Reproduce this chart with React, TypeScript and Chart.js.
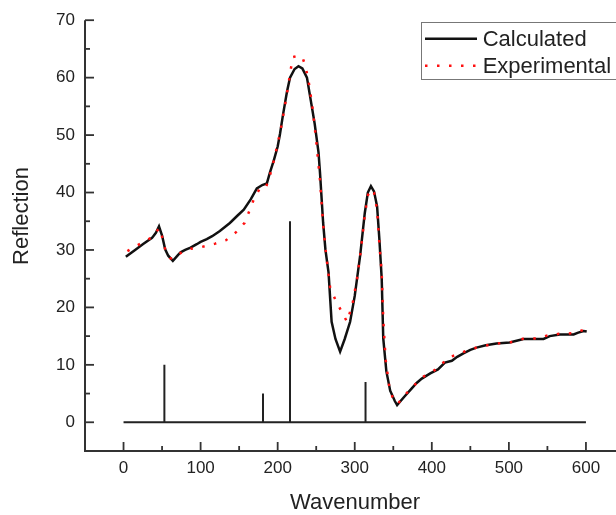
import React, { useEffect, useRef } from "react";
import { Chart, registerables } from "chart.js";

Chart.register(...registerables);

const calcX = [3, 15, 25, 37, 42, 46, 50, 54, 58, 64, 70, 74, 80, 87, 95, 100, 108, 115, 125, 138, 148, 156, 165, 173, 180, 186, 190, 195, 200, 203, 207, 212, 216, 222, 227, 232, 238, 243, 248, 253, 255, 259, 262, 266, 270, 275, 281, 287, 294, 300, 307, 313, 317, 321, 325, 329, 332, 335, 337, 341, 346, 352, 355, 364, 374, 380, 387, 398, 408, 417, 426, 433, 441, 450, 458, 470, 484, 501, 510, 519, 530, 545, 553, 566, 584, 590, 597, 601];
const calcY = [28.8, 30.0, 31.0, 32.1, 33.0, 34.1, 32.5, 30.1, 29.0, 28.1, 29.0, 29.6, 30.0, 30.4, 31.0, 31.4, 31.9, 32.4, 33.3, 34.7, 36.0, 37.0, 38.8, 40.7, 41.3, 41.6, 43.5, 45.6, 48.0, 50.2, 53.6, 57.5, 60.0, 61.5, 62.0, 61.6, 60.0, 56.0, 52.0, 47.0, 43.3, 34.7, 30.0, 26.1, 17.5, 14.5, 12.3, 14.5, 17.5, 22.0, 29.0, 36.4, 40.0, 41.1, 40.2, 37.6, 31.8, 25.0, 14.6, 8.9, 5.5, 3.7, 3.0, 4.4, 5.9, 6.8, 7.6, 8.5, 9.2, 10.4, 10.7, 11.4, 12.0, 12.6, 13.0, 13.4, 13.7, 13.9, 14.2, 14.5, 14.5, 14.5, 15.0, 15.3, 15.3, 15.6, 15.9, 15.8];

const expX = [5, 15, 25, 37, 43, 47, 51, 55, 60, 64, 70, 78, 87, 101, 119, 133, 146, 157, 163, 169, 176, 184, 190, 195, 200, 204, 208, 213, 217, 220, 226, 232, 236, 240, 245, 250, 255, 259, 263, 268, 275, 282, 290, 297, 303, 308, 313, 317, 321, 325, 329, 332, 335, 337, 340, 345, 350, 356, 364, 374, 387, 398, 410, 420, 433, 446, 460, 475, 490, 505, 520, 535, 550, 565, 583, 597];
const expY = [29.8, 30.6, 31.3, 32.2, 33.3, 33.8, 31.8, 29.6, 28.6, 28.4, 29.1, 29.8, 30.2, 30.5, 31.1, 31.7, 33.1, 34.7, 36.7, 38.8, 40.5, 40.6, 43.0, 45.5, 48.5, 51.0, 54.0, 58.0, 61.5, 63.6, 63.8, 63.6, 62.0, 59.5, 55.0, 49.0, 42.0, 34.5, 29.0, 23.5, 21.3, 19.5, 17.5, 20.5, 25.0, 30.0, 36.0, 39.5, 40.6, 40.0, 37.0, 31.0, 26.0, 18.0, 11.0, 6.0, 4.0, 3.2, 4.6, 6.0, 7.8, 8.6, 9.6, 11.2, 11.8, 12.5, 13.1, 13.5, 13.8, 14.0, 14.6, 14.6, 15.1, 15.4, 15.5, 16.1];

const stickPos = [53, 181, 216, 314];
const stickHeight = [10, 5, 35, 7];
const stickRange = [0, 600];

const xTicks = [0, 100, 200, 300, 400, 500, 600];
const yTicks = [0, 10, 20, 30, 40, 50, 60, 70];
const xMinor = [50, 150, 250, 350, 450, 550];
const yMinor = [5, 15, 25, 35, 45, 55, 65];

const seriesNames = ["Calculated", "Experimental"];
const xTitle = "Wavenumber";
const yTitle = "Reflection";

const FONT = "'Liberation Sans', Arial, sans-serif";

export default function App() {
  const ref = useRef<HTMLCanvasElement | null>(null);
  useEffect(() => {
    if (!ref.current) return;
    const calc = calcX.map((x, i) => ({ x, y: calcY[i] }));
    const exp = expX.map((x, i) => ({ x, y: expY[i] }));
    const sticks: { x: number; y: number }[] = [{ x: stickRange[0], y: 0 }];
    stickPos.forEach((p, i) => {
      sticks.push({ x: p, y: 0 }, { x: p, y: stickHeight[i] }, { x: p, y: 0 });
    });
    sticks.push({ x: stickRange[1], y: 0 });

    const decor = {
      id: "decor",
      afterDraw(chart: any) {
        const ctx = chart.ctx;
        const xs = chart.scales.x;
        const ys = chart.scales.y;
        const a = chart.chartArea;
        ctx.save();
        ctx.strokeStyle = "#333";
        ctx.lineWidth = 2;
        ctx.beginPath();
        ctx.moveTo(a.left, a.top);
        ctx.lineTo(a.left, a.bottom);
        ctx.lineTo(a.right, a.bottom);
        ctx.stroke();
        ctx.lineWidth = 1.8;
        xTicks.forEach((v) => {
          const px = xs.getPixelForValue(v);
          ctx.beginPath(); ctx.moveTo(px, a.bottom); ctx.lineTo(px, a.bottom - 9); ctx.stroke();
        });
        xMinor.forEach((v) => {
          const px = xs.getPixelForValue(v);
          ctx.beginPath(); ctx.moveTo(px, a.bottom); ctx.lineTo(px, a.bottom - 5); ctx.stroke();
        });
        yTicks.forEach((v) => {
          const py = ys.getPixelForValue(v);
          ctx.beginPath(); ctx.moveTo(a.left, py); ctx.lineTo(a.left + 9, py); ctx.stroke();
        });
        yMinor.forEach((v) => {
          const py = ys.getPixelForValue(v);
          ctx.beginPath(); ctx.moveTo(a.left, py); ctx.lineTo(a.left + 5, py); ctx.stroke();
        });
        // titles
        ctx.fillStyle = "#222";
        ctx.font = `22px ${FONT}`;
        ctx.textAlign = "center";
        ctx.textBaseline = "alphabetic";
        ctx.fillText(xTitle, 355, 509);
        ctx.save();
        ctx.translate(28, 216);
        ctx.rotate(-Math.PI / 2);
        ctx.fillText(yTitle, 0, 0);
        ctx.restore();
        // legend
        ctx.strokeStyle = "#777";
        ctx.lineWidth = 1;
        ctx.strokeRect(421.5, 22.5, 210, 57);
        ctx.strokeStyle = "#111";
        ctx.lineWidth = 2.5;
        ctx.beginPath(); ctx.moveTo(425, 38.7); ctx.lineTo(477, 38.7); ctx.stroke();
        ctx.strokeStyle = "#ff1010";
        ctx.setLineDash([2.5, 9.5]);
        ctx.beginPath(); ctx.moveTo(425, 65.7); ctx.lineTo(478, 65.7); ctx.stroke();
        ctx.setLineDash([]);
        ctx.fillStyle = "#222";
        ctx.textAlign = "left";
        ctx.fillText(seriesNames[0], 482.7, 45.7);
        ctx.fillText(seriesNames[1], 482.7, 73.3);
        ctx.restore();
      },
    };

    const chart = new Chart(ref.current, {
      type: "line",
      data: {
        datasets: [
          {
            label: seriesNames[1],
            data: exp,
            borderColor: "#ff1010",
            borderWidth: 2.5,
            borderDash: [2.5, 9.5],
            pointRadius: 0,
            tension: 0,
            fill: false,
          },
          {
            label: seriesNames[0],
            data: calc,
            borderColor: "#111",
            borderWidth: 2.5,
            pointRadius: 0,
            tension: 0,
            fill: false,
          },
          {
            label: "sticks",
            data: sticks,
            borderColor: "#222",
            borderWidth: 2,
            pointRadius: 0,
            tension: 0,
            fill: false,
          },
        ],
      },
      options: {
        animation: false,
        responsive: true,
        maintainAspectRatio: false,
        layout: { padding: { top: 15, left: 0, right: 0, bottom: 0 } },
        plugins: { legend: { display: false }, tooltip: { enabled: false } },
        scales: {
          x: {
            type: "linear",
            min: -50,
            max: 639,
            grid: { display: false, drawTicks: false },
            border: { display: false },
            afterBuildTicks: (s: any) => { s.ticks = xTicks.map((v) => ({ value: v })); },
            afterFit: (s: any) => { s.height = 64; },
            ticks: { color: "#222", padding: 7, font: { size: 17, family: FONT }, maxRotation: 0 },
          },
          y: {
            type: "linear",
            min: -5,
            max: 70,
            grid: { display: false, drawTicks: false },
            border: { display: false },
            afterBuildTicks: (s: any) => { s.ticks = yTicks.map((v) => ({ value: v })); },
            afterFit: (s: any) => { s.width = 85; },
            ticks: { color: "#222", padding: 10, font: { size: 17, family: FONT } },
          },
        },
      },
      plugins: [decor],
    });
    return () => chart.destroy();
  }, []);
  return (
    <div style={{ position: "fixed", left: 0, top: 0, width: 616, height: 515, background: "#fff" }}>
      <canvas ref={ref} />
    </div>
  );
}
